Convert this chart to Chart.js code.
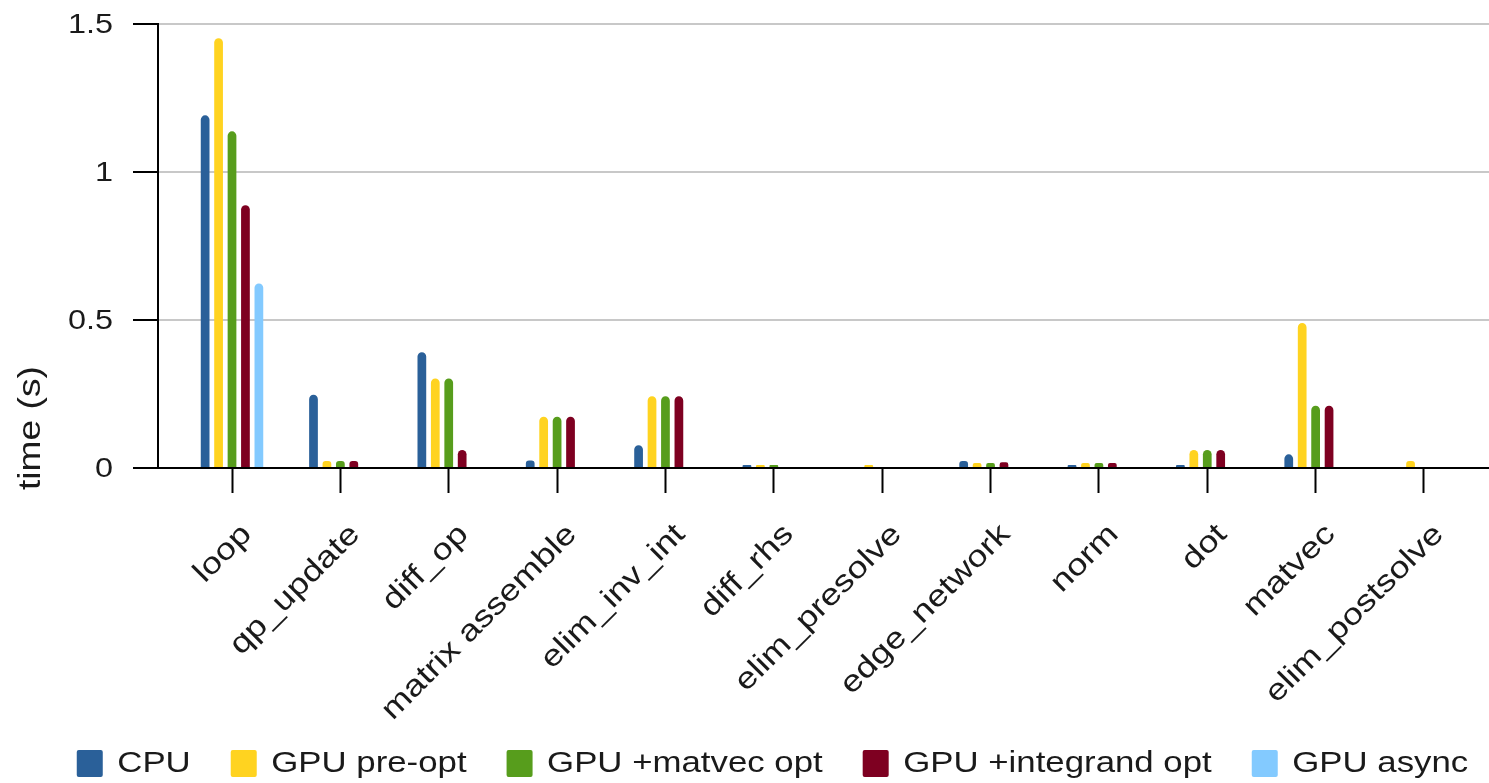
<!DOCTYPE html>
<html>
<head>
<meta charset="utf-8">
<script src="https://cdn.jsdelivr.net/npm/chart.js@4"></script>
<style>
  html, body { margin: 0; padding: 0; background: #ffffff; }
  #wrap { width: 1489px; height: 783px; overflow: hidden; }
</style>
</head>
<body>
<div id="wrap"><canvas id="chart" width="1489" height="783"></canvas></div>
<script>
// Kernel names along the x axis
const categories = ['loop', 'qp_update', 'diff_op', 'matrix assemble', 'elim_inv_int', 'diff_rhs',
  'elim_presolve', 'edge_network', 'norm', 'dot', 'matvec', 'elim_postsolve'];

// Timings in seconds per implementation
const cpu          = [1.19, 0.247, 0.391, 0.025, 0.077, 0.010, 0.003, 0.024, 0.010, 0.010, 0.046, 0.003];
const gpuPreOpt    = [1.45, 0.024, 0.302, 0.173, 0.242, 0.010, 0.010, 0.017, 0.017, 0.061, 0.489, 0.024];
const gpuMatvecOpt = [1.136, 0.024, 0.302, 0.173, 0.242, 0.010, 0.003, 0.017, 0.017, 0.061, 0.210, 0.003];
const gpuIntegrand = [0.887, 0.024, 0.061, 0.173, 0.242, 0.003, 0.003, 0.019, 0.017, 0.061, 0.210, 0.003];
const gpuAsync     = [0.623, null, null, null, null, null, null, null, null, null, null, null];

// Y axis tick values
const yTicks = [0, 0.5, 1, 1.5];

const seriesNames  = ['CPU', 'GPU pre-opt', 'GPU +matvec opt', 'GPU +integrand opt', 'GPU async'];
const seriesValues = [cpu, gpuPreOpt, gpuMatvecOpt, gpuIntegrand, gpuAsync];
const seriesColors = ['#2a6099', '#ffd320', '#579d1c', '#7e0021', '#83caff'];

const FONT = "'Liberation Sans', Arial, sans-serif";
const INK = '#1a1a1a';

const canvas = document.getElementById('chart');
const ctx = canvas.getContext('2d');

// Wide text face: glyphs are drawn and measured 1.2x wider along the text direction
const TEXT_STRETCH = 1.2;
const baseFill = ctx.fillText.bind(ctx);
const baseMeasure = ctx.measureText.bind(ctx);
ctx.fillText = function (text, x, y, maxWidth) {
  this.save();
  this.translate(x, y);
  this.scale(TEXT_STRETCH, 1);
  if (maxWidth === undefined) baseFill(text, 0, 0);
  else baseFill(text, 0, 0, maxWidth / TEXT_STRETCH);
  this.restore();
};
ctx.measureText = function (text) {
  const m = baseMeasure(text);
  return {
    width: m.width * TEXT_STRETCH,
    actualBoundingBoxLeft: m.actualBoundingBoxLeft * TEXT_STRETCH,
    actualBoundingBoxRight: m.actualBoundingBoxRight * TEXT_STRETCH,
    actualBoundingBoxAscent: m.actualBoundingBoxAscent,
    actualBoundingBoxDescent: m.actualBoundingBoxDescent,
    fontBoundingBoxAscent: m.fontBoundingBoxAscent,
    fontBoundingBoxDescent: m.fontBoundingBoxDescent
  };
};

// Category index range shown on the x axis (leaves a margin before the first group)
const X_MIN = -0.683;
const X_MAX = 11.60;

const datasets = seriesNames.map((name, s) => ({
  label: name,
  data: seriesValues[s].map((v, i) => ({ x: i, y: v })),
  backgroundColor: seriesColors[s],
  borderWidth: 0,
  borderRadius: { topLeft: 5, topRight: 5 },
  borderSkipped: 'start',
  categoryPercentage: 0.62,
  barPercentage: 0.65
}));

// Rotated y-axis title drawn in the left margin
const axisTitle = {
  id: 'axisTitle',
  afterLayout(chart) {
    // let the long rotated category names run down into the legend band
    chart.scales.x.bottom = chart.height;
  },
  afterDraw(chart) {
    const c = chart.ctx;
    c.save();
    c.font = `31px ${FONT}`;
    c.fillStyle = INK;
    c.textAlign = 'center';
    c.textBaseline = 'middle';
    c.translate(31, chart.chartArea.bottom - 40);
    c.rotate(-Math.PI / 2);
    c.fillText('time (s)', 0, 0);
    c.restore();
  }
};

new Chart(canvas, {
  type: 'bar',
  data: { datasets },
  options: {
    responsive: false,
    animation: false,
    devicePixelRatio: 1,
    layout: { padding: { left: 28, right: -28, top: 23.5, bottom: -5 } },
    plugins: {
      tooltip: { enabled: false },
      legend: {
        position: 'bottom',
        labels: {
          font: { family: FONT, size: 29 },
          color: INK,
          boxWidth: 26,
          boxHeight: 27,
          padding: 40,
          useBorderRadius: true,
          borderRadius: 2
        }
      }
    },
    scales: {
      x: {
        type: 'linear',
        offset: false,
        min: X_MIN,
        max: X_MAX,
        afterBuildTicks(scale) {
          scale.ticks = categories.map((c, i) => ({ value: i }));
        },
        afterFit(scale) {
          scale.height = 241;
          scale.paddingLeft = 0;
          scale.paddingRight = 0;
        },
        ticks: {
          autoSkip: false,
          minRotation: 45,
          maxRotation: 45,
          padding: 24,
          labelOffset: 15,
          color: INK,
          font: { family: FONT, size: 30 },
          callback: (v) => categories[v]
        },
        grid: {
          offset: false,
          drawOnChartArea: false,
          drawTicks: true,
          tickLength: 25,
          tickColor: '#000000',
          tickWidth: 2
        },
        border: { color: '#000000', width: 2 }
      },
      y: {
        min: 0,
        max: 1.5,
        afterBuildTicks(scale) {
          scale.ticks = yTicks.map(v => ({ value: v }));
        },
        afterFit(scale) {
          scale.width = 130;
          scale.paddingTop = 0;
          scale.paddingBottom = 0;
        },
        ticks: {
          padding: 20,
          labelOffset: 2,
          color: INK,
          font: { family: FONT, size: 27 },
          callback: (v) => String(v)
        },
        grid: {
          color: '#c8c8c8',
          lineWidth: 2,
          tickLength: 25,
          tickColor: '#000000',
          tickWidth: 2
        },
        border: { color: '#000000', width: 2 }
      }
    }
  },
  plugins: [axisTitle]
});
</script>
</body>
</html>
